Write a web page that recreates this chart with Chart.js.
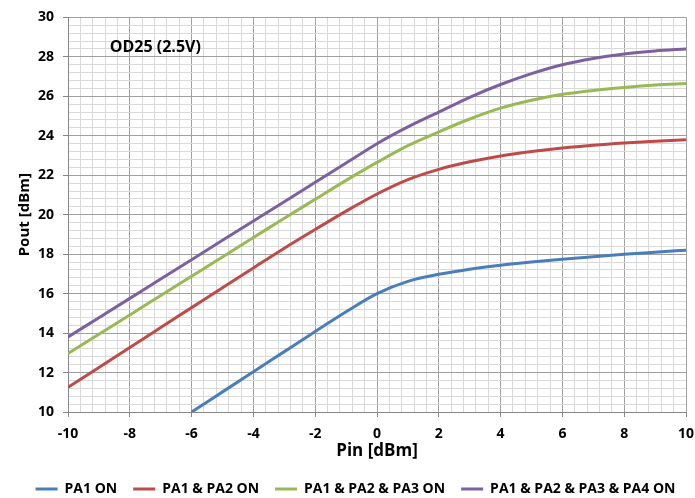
<!DOCTYPE html>
<html lang="en">
<head>
  <meta charset="UTF-8" />
  <title>OD25 (2.5V) Pout vs Pin</title>
  <script src="https://cdn.jsdelivr.net/npm/chart.js"></script>
  <style>
    html, body { margin: 0; padding: 0; background: #fff; }
    #wrap { width: 695px; height: 498px; }
  </style>
</head>
<body>
  <div id="wrap"><canvas id="poutChart"></canvas></div>

  <script>
    // Pin [dBm]
    const pin = [-10, -9, -8, -7, -6, -5, -4, -3, -2, -1, 0, 1, 2, 3, 4, 5, 6, 7, 8, 9, 10];

    // Pout [dBm] per configuration
    const pa1 = [null, null, null, null, 10.0, 11.02, 12.04, 13.06, 14.08, 15.08, 16.0, 16.62, 16.98, 17.24, 17.44, 17.6, 17.74, 17.87, 17.99, 18.1, 18.2];
    const pa12 = [11.25, 12.26, 13.27, 14.28, 15.29, 16.3, 17.3, 18.3, 19.25, 20.18, 21.05, 21.78, 22.3, 22.68, 22.98, 23.2, 23.38, 23.52, 23.63, 23.72, 23.8];
    const pa123 = [12.96, 13.94, 14.92, 15.9, 16.88, 17.86, 18.84, 19.82, 20.78, 21.74, 22.65, 23.5, 24.2, 24.85, 25.4, 25.8, 26.1, 26.3, 26.45, 26.57, 26.65];
    const pa1234 = [13.8, 14.78, 15.76, 16.74, 17.72, 18.7, 19.68, 20.66, 21.64, 22.62, 23.6, 24.45, 25.2, 25.95, 26.6, 27.15, 27.6, 27.92, 28.15, 28.3, 28.4];

    const seriesNames = ['PA1 ON', 'PA1 & PA2 ON', 'PA1 & PA2 & PA3 ON', 'PA1 & PA2 & PA3 & PA4 ON'];
    const seriesColors = ['#4a7ebb', '#be4b48', '#98b954', '#7d60a0'];

    const chartTitle = 'OD25 (2.5V)';
    const titlePos = { x: -8.65, y: 28.48 };

    const isMajor = v => Math.abs(Math.round(v * 10) % 20) === 0;
    const toPoints = ys => pin.map((x, i) => ({ x: x, y: ys[i] }));

    // label inside the plot area, placed through the scales
    const insideTitle = {
      id: 'insideTitle',
      afterDatasetsDraw(chart) {
        const { ctx, scales } = chart;
        ctx.save();
        ctx.font = 'bold 16px "Open Sans", sans-serif';
        ctx.fillStyle = '#000';
        ctx.textAlign = 'left';
        ctx.textBaseline = 'middle';
        ctx.fillText(chartTitle, scales.x.getPixelForValue(titlePos.x), scales.y.getPixelForValue(titlePos.y));
        ctx.restore();
      }
    };

    const tickFont = { family: '"Open Sans", sans-serif', size: 14, weight: 'bold' };

    new Chart(document.getElementById('poutChart'), {
      type: 'line',
      data: {
        datasets: [pa1, pa12, pa123, pa1234].map((ys, i) => ({
          label: seriesNames[i],
          data: toPoints(ys),
          borderColor: seriesColors[i],
          backgroundColor: seriesColors[i],
          borderWidth: 3,
          pointRadius: 0,
          pointStyle: 'line',
          cubicInterpolationMode: 'monotone',
          spanGaps: false
        }))
      },
      options: {
        responsive: true,
        maintainAspectRatio: false,
        animation: false,
        layout: { padding: { top: 13, right: 0, left: 16, bottom: -8 } },
        plugins: {
          legend: {
            position: 'bottom',
            labels: {
              usePointStyle: true,
              pointStyleWidth: 22,
              boxHeight: 3,
              padding: 16,
              color: '#000',
              font: { family: '"Open Sans", sans-serif', size: 14, weight: 'bold' }
            }
          },
          tooltip: { enabled: false }
        },
        scales: {
          x: {
            type: 'linear',
            min: -10,
            max: 10,
            afterBuildTicks: scale => {
              scale.ticks = [];
              for (let i = 0; i <= 50; i++) scale.ticks.push({ value: -10 + i * 0.4 });
            },
            afterFit: scale => { scale.height = 54; scale.paddingRight = 9; },
            ticks: {
              autoSkip: false,
              maxRotation: 0,
              padding: 9,
              color: '#000',
              font: tickFont,
              callback: v => isMajor(v) ? String(Math.round(v)) : ''
            },
            grid: {
              color: c => isMajor(c.tick.value) ? '#a0a0a0' : '#d9d9d9',
              tickColor: c => isMajor(c.tick.value) ? '#868686' : 'rgba(0,0,0,0)',
              tickLength: 5
            },
            border: { color: '#868686' },
            title: {
              display: true,
              text: 'Pin [dBm]',
              color: '#000',
              font: { family: '"Open Sans", sans-serif', size: 17, weight: 'bold' },
              padding: { top: 0, bottom: 5 }
            }
          },
          y: {
            type: 'linear',
            min: 10,
            max: 30,
            afterBuildTicks: scale => {
              scale.ticks = [];
              for (let i = 0; i <= 50; i++) scale.ticks.push({ value: 10 + i * 0.4 });
            },
            afterFit: scale => { scale.width = 52; },
            ticks: {
              autoSkip: false,
              padding: 9,
              color: '#000',
              font: tickFont,
              callback: v => isMajor(v) ? String(Math.round(v)) : ''
            },
            grid: {
              color: c => isMajor(c.tick.value) ? '#a0a0a0' : '#d9d9d9',
              tickColor: c => isMajor(c.tick.value) ? '#868686' : 'rgba(0,0,0,0)',
              tickLength: 5
            },
            border: { color: '#868686' },
            title: {
              display: true,
              text: 'Pout [dBm]',
              color: '#000',
              font: { family: '"Open Sans", sans-serif', size: 15, weight: 'bold' },
              padding: { top: 0, bottom: 6 }
            }
          }
        }
      },
      plugins: [insideTitle]
    });
  </script>
</body>
</html>
